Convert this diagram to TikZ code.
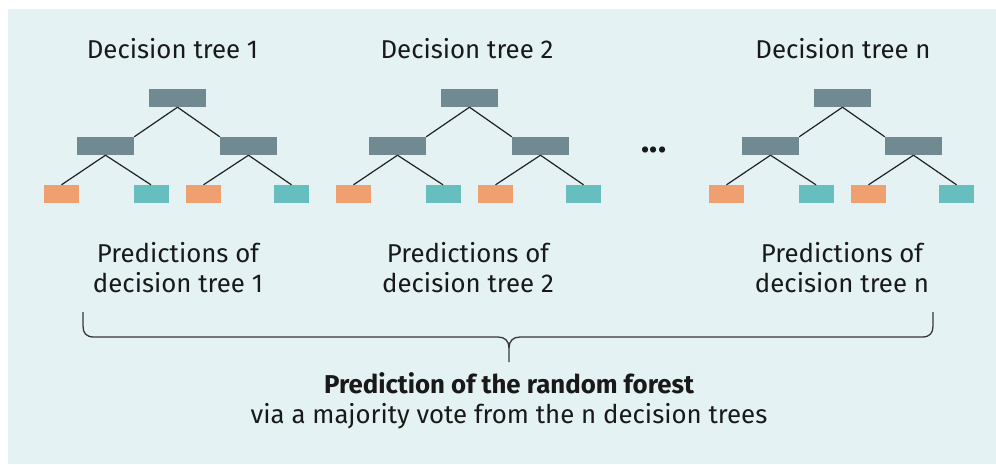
\documentclass[tikz,border=0pt]{standalone}
\usepackage{fontspec}
\setmainfont{Fira Sans}
\definecolor{bgcol}{HTML}{E4F2F4}
\definecolor{nodegray}{HTML}{718A91}
\definecolor{leaforange}{HTML}{F09F70}
\definecolor{leafteal}{HTML}{67BEBE}
\definecolor{inkline}{HTML}{222222}
\begin{document}
\begin{tikzpicture}[x=1pt,y=-1pt,
  splitbox/.style={rectangle, fill=nodegray, minimum width=57pt, minimum height=18pt, inner sep=0pt},
  leafA/.style={rectangle, fill=leaforange, minimum width=35pt, minimum height=18pt, inner sep=0pt},
  leafB/.style={rectangle, fill=leafteal, minimum width=35pt, minimum height=18pt, inner sep=0pt},
  edge/.style={draw=inkline, line width=1.2pt},
  txt/.style={font=\fontsize{25.8}{30}\selectfont, text=black!90, anchor=base, inner sep=0pt},
  bracestroke/.style={draw=inkline!90, line width=1.3pt, line join=round}]
  % canvas and panel
  \fill[white] (0,0) rectangle (996,464);
  \fill[bgcol] (8,9) rectangle (996,464);
  \useasboundingbox (0,0) rectangle (996,464);

  % three decision trees
  \foreach \k/\dx in {1/0, 2/292, n/665} {
    \begin{scope}[xshift=\dx pt]
      \node[splitbox] (r\k)  at (177.5,98)  {};
      \node[splitbox] (ml\k) at (105.5,146) {};
      \node[splitbox] (mr\k) at (248.5,146) {};
      \node[leafA] (la\k) at (61.5,194)  {};
      \node[leafB] (lb\k) at (151,194)   {};
      \node[leafA] (lc\k) at (203.5,194) {};
      \node[leafB] (ld\k) at (291.5,194) {};
      \draw[edge] (r\k.south) -- (ml\k.north east);
      \draw[edge] (r\k.south) -- (mr\k.north west);
      \draw[edge] (ml\k.south) -- (la\k.north);
      \draw[edge] (ml\k.south) -- (lb\k.north);
      \draw[edge] (mr\k.south) -- (lc\k.north);
      \draw[edge] (mr\k.south) -- (ld\k.north);
    \end{scope}
  }

  % titles
  \node[txt] (t1) at (172.5,58) {Decision tree 1};
  \node[txt] (t2) at (467,58) {Decision tree 2};
  \node[txt] (tn) at (843,58) {Decision tree n};
  \node[txt, font=\fontsize{34}{34}\selectfont\bfseries] (dots) at (654,152) {...};

  % per-tree predictions
  \node[txt] (pa1) at (178,262) {Predictions of};
  \node[txt] (pb1) at (178,292) {decision tree 1};
  \node[txt] (pa2) at (468,262) {Predictions of};
  \node[txt] (pb2) at (468,292) {decision tree 2};
  \node[txt] (pan) at (842,262) {Predictions of};
  \node[txt] (pbn) at (842,292) {decision tree n};

  % brace collecting the predictions
  \coordinate (bl) at (83,312);
  \coordinate (br) at (933,312);
  \coordinate (btip) at (509,362);
  \draw[bracestroke] (bl) -- (83,326) .. controls (83,333) and (86,337) .. (94,337)
    -- (498,337) .. controls (505,337) and (509,341) .. (509,348) -- (btip);
  \draw[bracestroke] (br) -- (933,326) .. controls (933,333) and (930,337) .. (922,337)
    -- (520,337) .. controls (513,337) and (509,341) .. (509,348);

  % result
  \node[txt, font=\fontsize{25.8}{30}\selectfont\bfseries] (res) at (509,393) {Prediction of the random forest};
  \node[txt] (via) at (509,423) {via a majority vote from the n decision trees};
\end{tikzpicture}
\end{document}
